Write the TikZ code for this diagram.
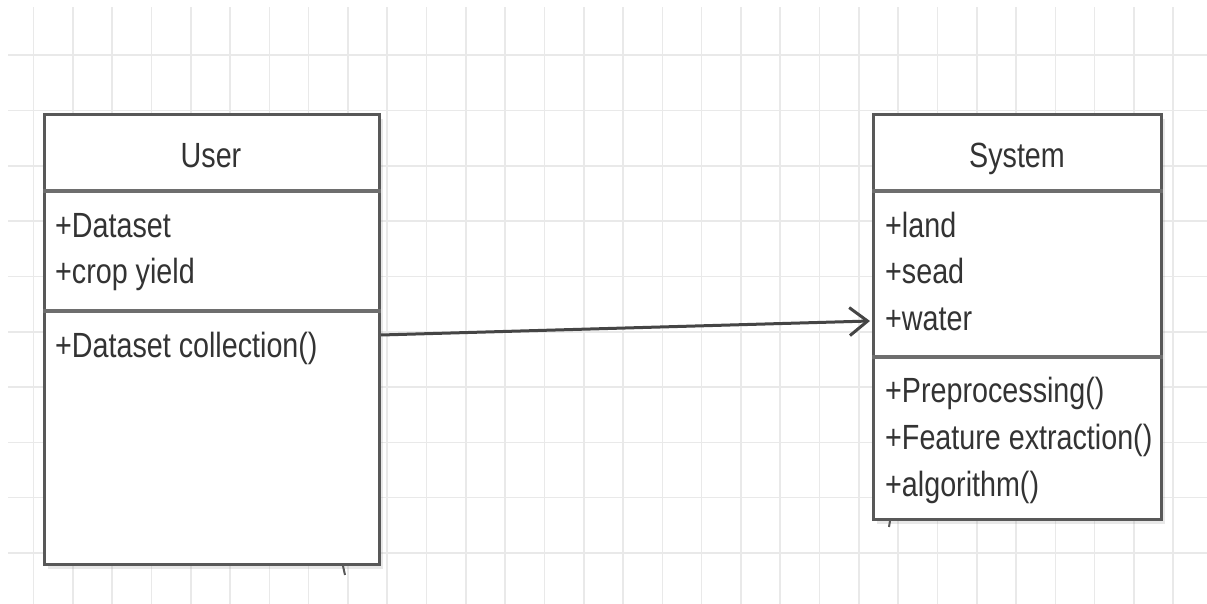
\documentclass[tikz,border=0pt]{standalone}
\usepackage{fontspec}
\newfontfamily\umlfont[FakeStretch=0.82]{Liberation Sans}
\usetikzlibrary{arrows.meta,shadows}
\definecolor{gridline}{HTML}{E9E9E9}
\definecolor{boxline}{HTML}{585858}
\definecolor{divline}{HTML}{6E6E6E}
\definecolor{umltext}{HTML}{333333}
\definecolor{linkline}{HTML}{454545}
\tikzset{
  classbox/.style={draw=boxline, line width=3pt, fill=white, rectangle,
    inner sep=0pt, anchor=north west,
    drop shadow={shadow xshift=3pt, shadow yshift=-5pt, opacity=0.18}},
  divider/.style={draw=divline, line width=4pt},
  classname/.style={font=\umlfont\fontsize{35}{42}\selectfont, text=umltext,
    inner sep=0pt, anchor=base},
  member/.style={font=\umlfont\fontsize{35}{42}\selectfont, text=umltext,
    inner sep=0pt, anchor=base west},
  link/.style={draw=linkline, line width=3pt,
    -{Straight Barb[length=18pt,width=28pt,line width=3pt]}},
  mark stroke/.style={draw=boxline, line width=2pt}
}
\begin{document}
\begin{tikzpicture}[x=1pt,y=1pt]
\useasboundingbox (0,0) rectangle (1207,604);
\fill[white] (0,0) rectangle (1207,604);

% background grid
\foreach \k in {0,...,29}
  \draw[gridline, line width=1.6pt] ({33.5+39.3*\k},0) -- ({33.5+39.3*\k},597);
\foreach \k in {1,...,10}
  \draw[gridline, line width=1.6pt] (8,{604-55.3*\k}) -- (1207,{604-55.3*\k});

% class User
\node[classbox, minimum width=335pt, minimum height=450pt] (user) at (43,491) {};
\draw[divider] ([yshift=-78pt]user.north west) -- ([yshift=-78pt]user.north east);
\draw[divider] ([yshift=-198pt]user.north west) -- ([yshift=-198pt]user.north east);
\node[classname] (usertitle) at (211,436) {User};
\node[member] (uattr1) at (55,366) {+Dataset};
\node[member] (uattr2) at (55,320) {+crop yield};
\node[member] (uop1) at (55,246) {+Dataset collection()};

% class System
\node[classbox, minimum width=288pt, minimum height=405pt] (system) at (872,491) {};
\draw[divider] ([yshift=-78pt]system.north west) -- ([yshift=-78pt]system.north east);
\draw[divider] ([yshift=-244pt]system.north west) -- ([yshift=-244pt]system.north east);
\node[classname] (systitle) at (1017,436) {System};
\node[member] (sattr1) at (885,366) {+land};
\node[member] (sattr2) at (885,320) {+sead};
\node[member] (sattr3) at (885,273) {+water};
\node[member] (sop1) at (885,201) {+Preprocessing()};
\node[member] (sop2) at (885,154) {+Feature extraction()};
\node[member] (sop3) at (885,107) {+algorithm()};

% small strokes under the boxes
\draw[mark stroke] ([xshift=-38pt]user.south east) -- ++(2,-9);
\draw[mark stroke] ([xshift=18pt]system.south west) -- ++(-1,-6);

% association
\coordinate (linkstart) at ([yshift=-222pt]user.north east);
\coordinate (linkend) at ([yshift=-208pt,xshift=-2pt]system.north west);
\draw[link] (linkstart) -- (linkend);
\end{tikzpicture}
\end{document}
